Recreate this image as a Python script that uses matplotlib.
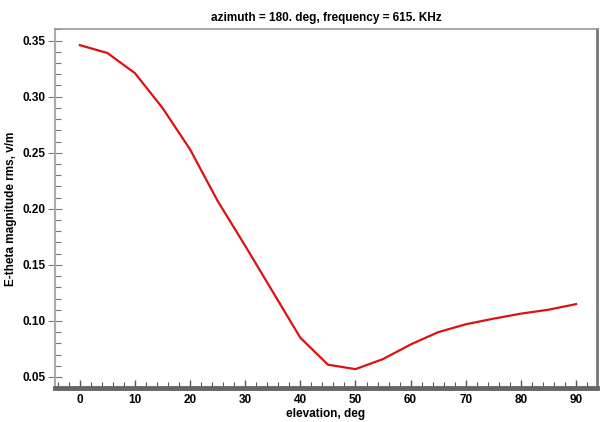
import matplotlib.pyplot as plt
from matplotlib.ticker import MultipleLocator

plt.rcParams['font.family'] = ['Liberation Sans', 'DejaVu Sans']
plt.rcParams['font.weight'] = 'bold'

elevation = [0, 5, 10, 15, 20, 25, 30, 35, 40, 45, 50, 55, 60, 65, 70, 75, 80, 85, 90]
e_theta = [0.346, 0.339, 0.321, 0.290, 0.253, 0.207, 0.167, 0.126, 0.085, 0.061, 0.057,
           0.066, 0.079, 0.090, 0.097, 0.102, 0.1065, 0.110, 0.115]

fig = plt.figure(figsize=(6.01, 4.22), dpi=100)
ax = fig.add_axes([0.0915, 0.0806, 0.9018, 0.8507])

ax.plot(elevation, e_theta, color='#dd1111', lw=1.6)

ax.set_xlim(-4.5, 93.8)
ax.set_ylim(0.0402, 0.3604)
ax.xaxis.set_major_locator(MultipleLocator(10))
ax.xaxis.set_minor_locator(MultipleLocator(2))
ax.yaxis.set_major_locator(MultipleLocator(0.05))
ax.yaxis.set_minor_locator(MultipleLocator(0.01))
ax.yaxis.set_major_formatter(plt.FormatStrFormatter('%.2f'))

ax.tick_params(axis='x', which='major', direction='in', length=6, width=1, color='#555555',
               labelsize=8.5, pad=4)
ax.tick_params(axis='x', which='minor', direction='in', length=4, width=0.8, color='#555555')
ax.tick_params(axis='y', which='major', direction='inout', length=10, width=0.8, color='#777777',
               labelsize=8.5, pad=2)
ax.tick_params(axis='y', which='minor', direction='in', length=4, width=0.8, color='#777777')

ax.spines['bottom'].set_linewidth(3.5)
ax.spines['bottom'].set_color('#666666')
ax.spines['left'].set_color('#aaaaaa')
ax.spines['left'].set_linewidth(1.5)
ax.spines['top'].set_color('#999999')
ax.spines['top'].set_linewidth(1.2)
ax.spines['right'].set_color('#777777')
ax.spines['right'].set_linewidth(2)

ax.set_title('azimuth = 180. deg, frequency = 615. KHz', fontsize=8.5, fontweight='bold', pad=6)
ax.set_xlabel('elevation, deg', fontsize=8.5, fontweight='bold', labelpad=2)
ax.set_ylabel('E-theta magnitude rms, v/m', fontsize=8.5, fontweight='bold', labelpad=4)

fig.savefig('out.png', dpi=100)
